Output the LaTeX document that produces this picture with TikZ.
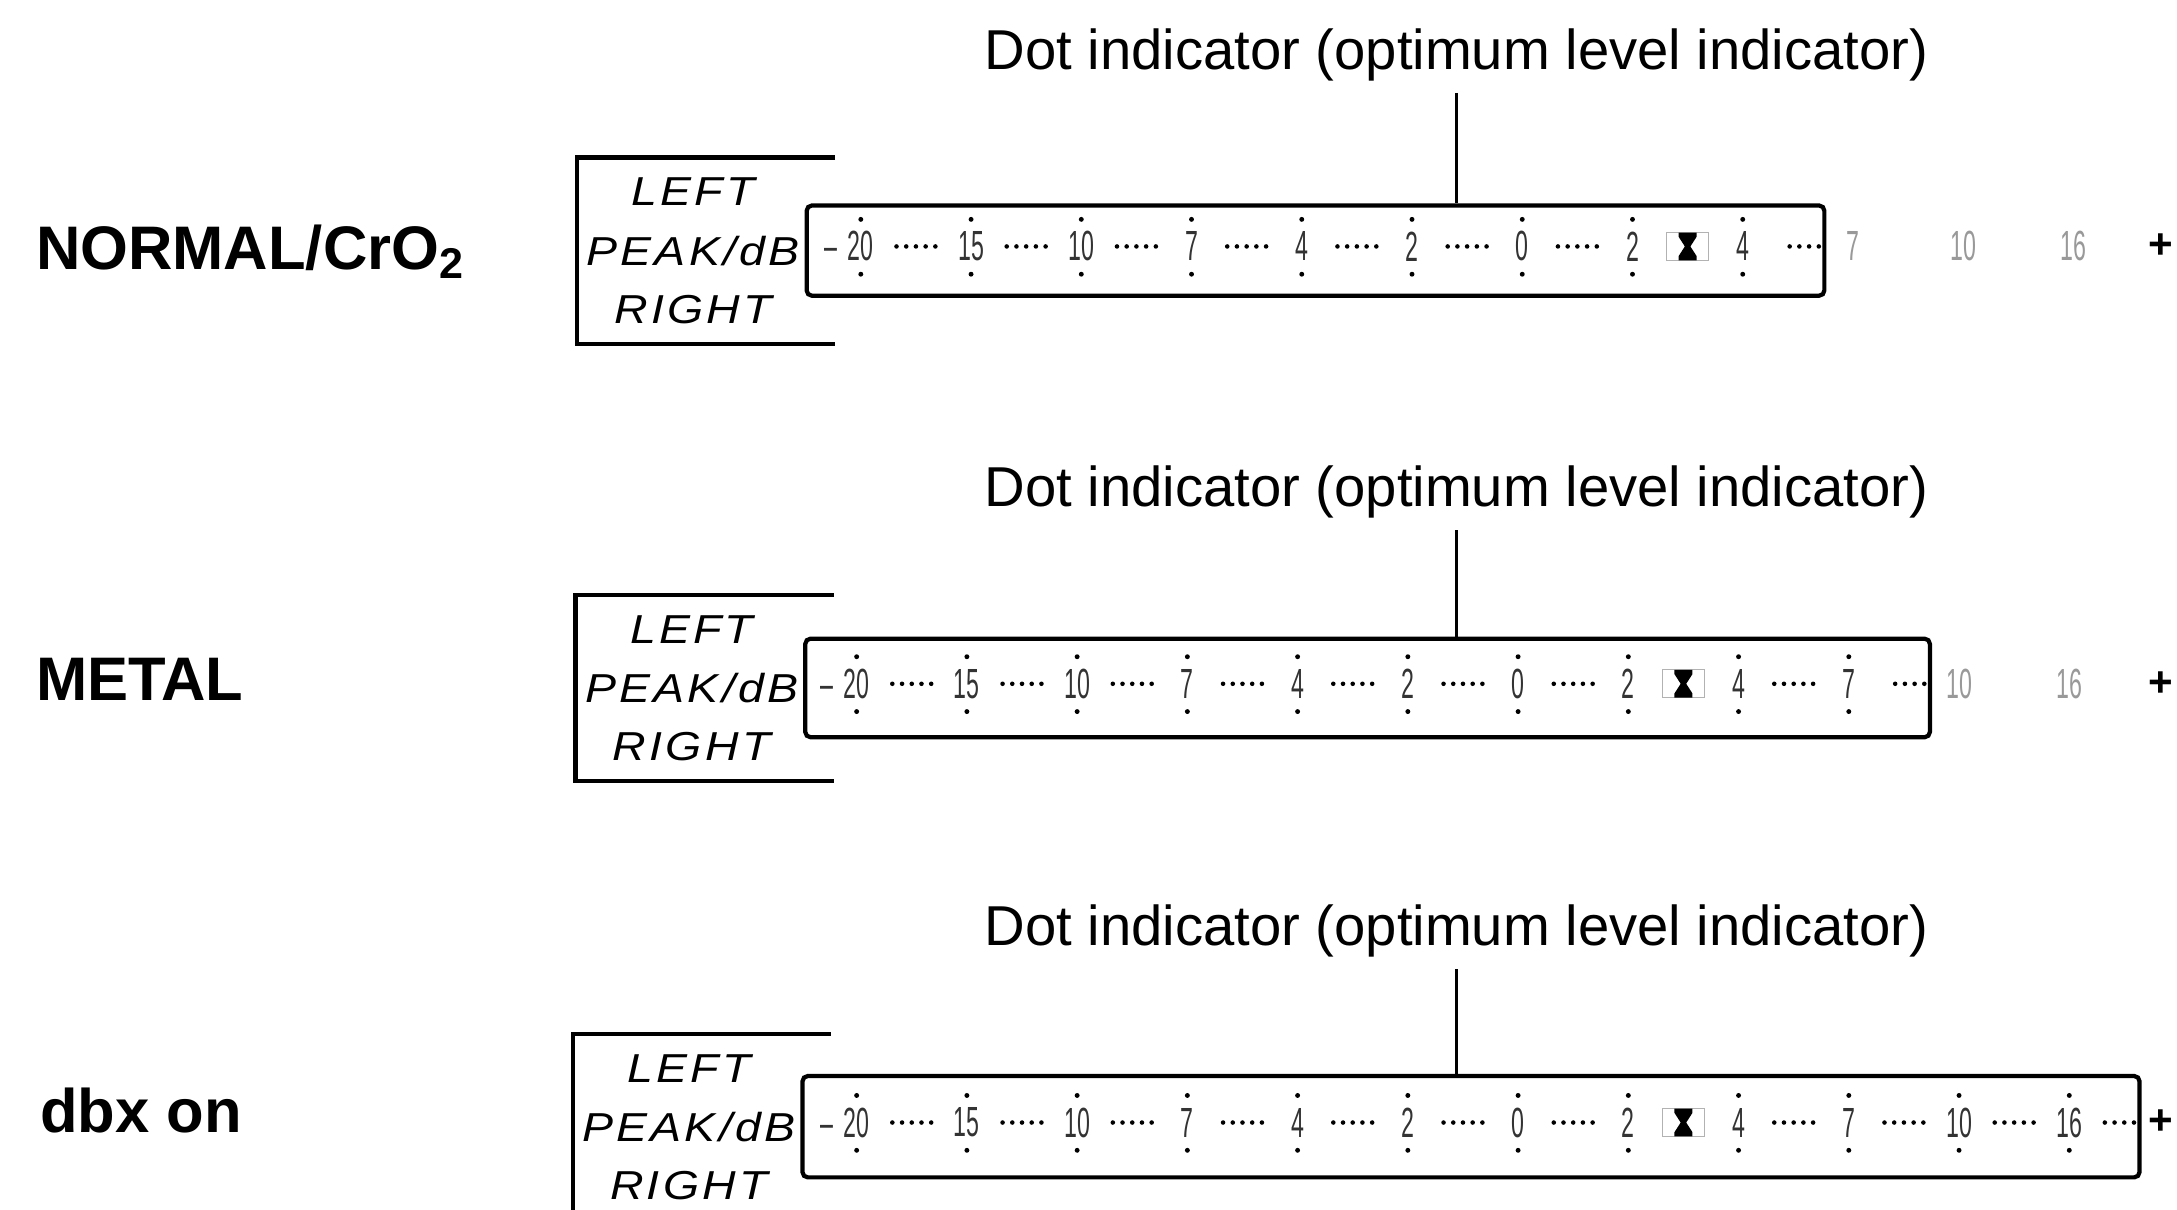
\documentclass[tikz,border=0pt]{standalone}
\usepackage{fontspec}
\setmainfont{Liberation Sans}
\newfontfamily\segfont[FakeStretch=0.55]{Liberation Sans}
\newfontfamily\chanfont[FakeStretch=1.15,LetterSpace=8]{Liberation Sans}
\usepackage{tikz}
\usetikzlibrary{positioning}

\begin{document}
\begin{tikzpicture}[x=0.013884cm, y=-0.013884cm, node distance=0.27cm, thick]
\tikzstyle{meter} = [rectangle, draw, line width=1.2pt, rounded corners=1.5pt, inner sep=0pt]
\tikzstyle{mode} = [anchor=west, inner sep=0pt, font=\fontsize{17.5}{20}\selectfont\bfseries]
\tikzstyle{callout} = [inner sep=3pt, font=\fontsize{16}{19}\selectfont]
\tikzstyle{chan} = [inner sep=0pt, font=\chanfont\itshape\fontsize{11.5}{13}\selectfont]
\tikzstyle{digit} = [inner sep=0pt, text=black!80, font=\segfont\fontsize{12}{14}\selectfont]
\tikzstyle{faint} = [digit, text=black!40]
\tikzstyle{markbox} = [rectangle, draw=black!30, line width=0.4pt, minimum width=0.42cm, minimum height=0.28cm]
\tikzstyle{plus} = [inner sep=0pt, font=\fontsize{12}{13}\selectfont\bfseries]

\useasboundingbox (0,0) rectangle (1568,871);
\clip (0,0) rectangle (1568,871);

\node [mode] (normal) at (25,181) {NORMAL/CrO\textsubscript{2}};
\node [mode] (metal) at (25,489) {METAL};
\node [mode] (dbx) at (28,800) {dbx on};

\foreach \r/\yc/\bh/\dx/\bl/\br/\last in {1/180.5/65/3/581/1314/8, 2/495.5/71/0/580/1390/9, 3/811.5/73/0/578/1541/11} {
  \pgfmathsetmacro\bw{(\br-\bl)*0.013884}
  \pgfmathsetmacro\bhh{\bh*0.013884}
  \node [meter, minimum width=\bw cm, minimum height=\bhh cm] (box\r) at ({(\bl+\br)/2},\yc) {};
  \node [callout] (dot\r) at (1049,\yc-141) {Dot indicator (optimum level indicator)};
  \draw [line width=1pt] (dot\r.south) -- (dot\r.south |- box\r.north);
  \draw [line width=1.2pt] (box\r.west) ++(22,-67) -| ++(-186,134) -- ++(186,0);

  \node [chan, left=1pt of box\r] (peak\r) {PEAK/dB};
  \node [chan, above=of peak\r] (left\r) {LEFT};
  \node [chan, below=of peak\r] (right\r) {RIGHT};

  \foreach \n [count=\i from 0] in {{\llap{\textendash\kern3pt}20},15,10,7,4,2,0,2,4,7,10,16} {
    \pgfmathsetmacro\px{617+\dx+79.4*\i}
    \ifnum\i>\last
      \node [faint] (n\r-\i) at (\px,\yc-3) {\n};
    \else
      \node [digit] (n\r-\i) at (\px,\yc-3) {\n};
      \fill (\px,\yc-22.5) circle (0.7pt);
      \fill (\px,\yc+17) circle (0.7pt);
      \ifnum\i<\last
        \ifnum\i=7
          \node [markbox] (mark\r) at (\px+39.7,\yc-3) {};
          \fill [shift={(mark\r.center)}] (-6.5,-10) -- (6.5,-10) -- (6.5,-7) -- (2,0) -- (6.5,7) -- (6.5,10) -- (-6.5,10) -- (-6.5,7) -- (-2,0) -- (-6.5,-7) -- cycle;
        \else
          \foreach \k in {0,...,4}
            \fill (\px+39.7+7*\k-14,\yc-3) circle (0.65pt);
        \fi
      \fi
    \fi
  }
  \foreach \k in {0,...,3}
    \fill (\br-4-7*\k,\yc-3) circle (0.65pt);
  \node [plus] (plus\r) at (1556,\yc-3) {+};
}
\end{tikzpicture}
\end{document}
